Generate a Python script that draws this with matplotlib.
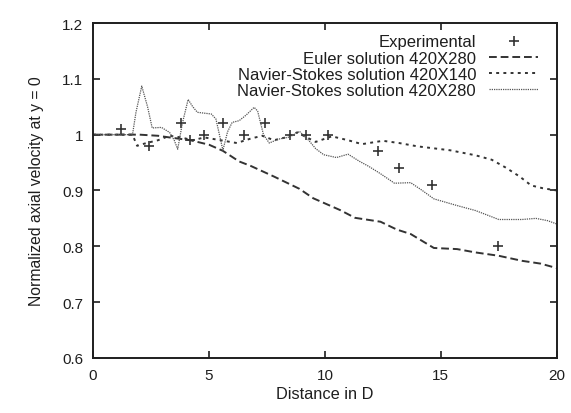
import matplotlib
matplotlib.use("Agg")
import matplotlib.pyplot as plt

plt.rcParams['font.family'] = ['Liberation Sans', 'DejaVu Sans']

# experimental points
exp_x = [1.2, 2.4, 3.8, 4.2, 4.8, 5.6, 6.5, 7.4, 8.5, 9.2, 10.15, 12.3, 13.2, 14.6, 17.45]
exp_y = [1.01, 0.98, 1.02, 0.99, 1.0, 1.02, 1.0, 1.02, 1.0, 1.0, 1.0, 0.97, 0.94, 0.91, 0.80]

# Euler solution 420X280
euler_x = [0, 1, 2, 2.8, 3.3, 4.2, 5.0, 5.6, 6.3, 6.8, 7.8, 8.9, 9.5, 10.65, 11.3, 12.4,
           13.1, 13.7, 14.7, 15.7, 16.5, 17.5, 18.5, 19.3, 20]
euler_y = [1.0, 1.0, 1.0, 0.998, 0.995, 0.99, 0.982, 0.971, 0.952, 0.944, 0.925, 0.903, 0.886,
           0.865, 0.851, 0.844, 0.830, 0.822, 0.797, 0.795, 0.789, 0.783, 0.774, 0.769, 0.761]

# Navier-Stokes solution 420X140
ns140_x = [0, 1, 1.7, 1.9, 2.3, 2.8, 3.3, 3.8, 4.3, 4.8, 5.5, 6.2, 6.8, 7.3, 7.8, 8.3,
           8.8, 9.6, 10.3, 11.0, 11.6, 12.5, 13.2, 14.0, 15.4, 16.5, 17.2, 17.8, 18.4,
           18.9, 19.4, 20]
ns140_y = [1.0, 1.0, 1.0, 0.98, 0.985, 0.99, 0.998, 0.995, 0.99, 0.995, 0.99, 0.985, 0.993,
           0.998, 0.99, 0.995, 1.004, 0.987, 0.997, 0.99, 0.983, 0.989, 0.985, 0.979, 0.972,
           0.963, 0.955, 0.941, 0.925, 0.909, 0.904, 0.9]

# Navier-Stokes solution 420X280
ns280_x = [0, 1, 1.7, 1.85, 2.1, 2.35, 2.55, 2.95, 3.3, 3.5, 3.65, 3.85, 4.1, 4.3, 4.5,
           5.1, 5.3, 5.45, 5.6, 5.8, 6.0, 6.3, 6.6, 6.95, 7.1, 7.35, 7.6, 8.0, 8.5, 8.9,
           9.3, 9.6, 9.95, 10.5, 11.0, 11.5, 11.9, 12.4, 13.0, 13.7, 14.2, 14.7, 15.7,
           16.5, 17.5, 18.5, 19.1, 19.6, 20]
ns280_y = [1.0, 1.0, 1.0, 1.04, 1.087, 1.05, 1.012, 1.013, 1.004, 0.99, 0.974, 1.02, 1.063,
           1.05, 1.04, 1.037, 1.028, 1.0, 0.972, 1.005, 1.022, 1.025, 1.035, 1.049, 1.042,
           1.0, 0.985, 0.992, 0.996, 1.006, 0.99, 0.975, 0.964, 0.959, 0.965, 0.952, 0.943,
           0.93, 0.913, 0.914, 0.9, 0.885, 0.873, 0.864, 0.848, 0.848, 0.85, 0.846, 0.84]

col = '#333333'
txt = '#1e1e1e'

fig = plt.figure(figsize=(5.71, 4.14), dpi=100)
ax = fig.add_axes([0.163, 0.133, 0.812, 0.809])

ax.plot(exp_x, exp_y, linestyle='none', marker='+', markersize=7, mew=1.2, color=col,
        label='Experimental')
ax.plot(euler_x, euler_y, color=col, lw=1.4, dashes=(4, 2), label='Euler solution 420X280')
ax.plot(ns140_x, ns140_y, color=col, lw=1.4, dashes=(1.5, 2.2),
        label='Navier-Stokes solution 420X140')
ax.plot(ns280_x, ns280_y, color='#555555', lw=0.9, dashes=(1, 0.8),
        label='Navier-Stokes solution 420X280')

ax.set_xlim(0, 20)
ax.set_ylim(0.6, 1.2)
ax.set_xticks([0, 5, 10, 15, 20])
ax.set_yticks([0.6, 0.7, 0.8, 0.9, 1.0, 1.1, 1.2])
ax.set_yticklabels(['0.6', '0.7', '0.8', '0.9', '1', '1.1', '1.2'])
ax.tick_params(direction='in', length=5, width=1.2, top=True, right=True,
               labelsize=11, colors=txt, pad=7)
for s in ax.spines.values():
    s.set_linewidth(1.4)
    s.set_color(txt)

ax.set_xlabel('Distance in D', fontsize=11.8, color=txt, labelpad=3)
ax.set_ylabel('Normalized axial velocity at y = 0', fontsize=11.3, color=txt, labelpad=13)

ax.legend(loc='upper right', bbox_to_anchor=(0.959, 0.966), frameon=False,
          markerfirst=False, fontsize=12, handlelength=2.9, handletextpad=0.8,
          labelspacing=0.07, borderaxespad=0, borderpad=0)
for t in ax.get_legend().get_texts():
    t.set_color(txt)

fig.savefig('out.png', dpi=100)
